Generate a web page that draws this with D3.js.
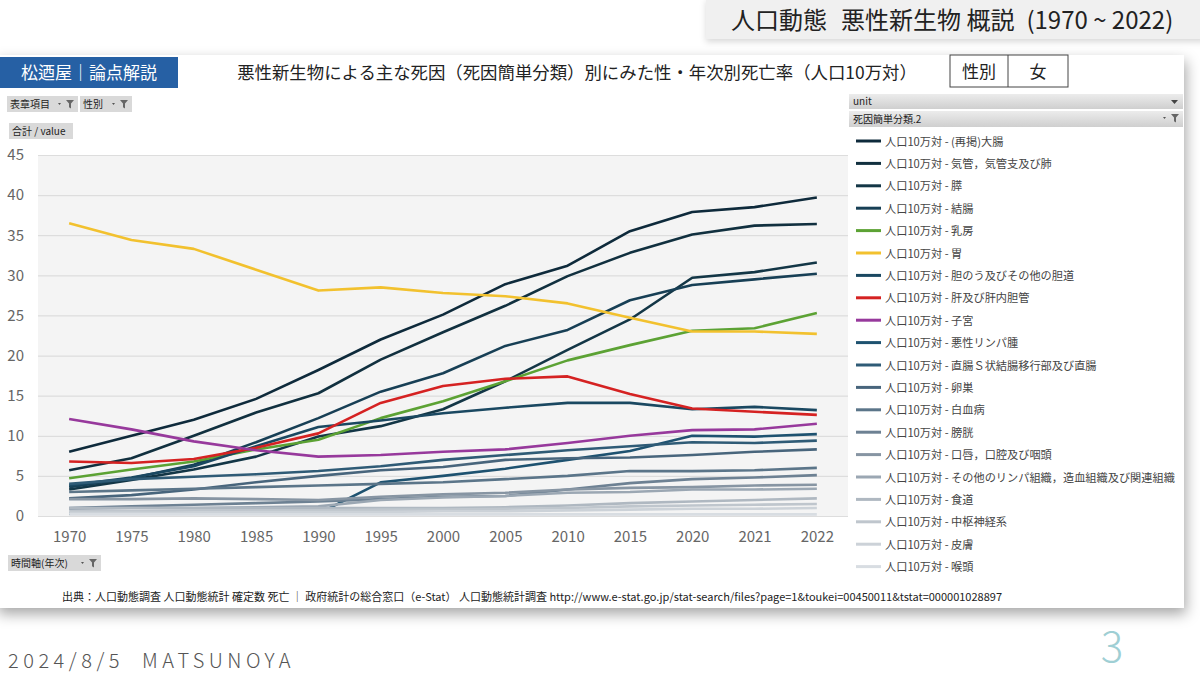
<!DOCTYPE html>
<html>
<head>
<meta charset="utf-8">
<script src="https://cdn.jsdelivr.net/npm/d3@7"></script>
<style>
	body { margin:0; background:#fff; }
	text { font-family:"Noto Sans CJK JP","Noto Sans",sans-serif; }
</style>
</head>
<body>
<script>
// --- data (rates per 100,000, female) ---
var years = ["1970","1975","1980","1985","1990","1995","2000","2005","2010","2015","2020","2021","2022"];
var yTicks = [0,5,10,15,20,25,30,35,40,45];

var causeNames = [
	"(再掲)大腸","気管，気管支及び肺","膵","結腸","乳房","胃",
	"胆のう及びその他の胆道","肝及び肝内胆管","子宮","悪性リンパ腫",
	"直腸Ｓ状結腸移行部及び直腸","卵巣","白血病","膀胱","口唇，口腔及び咽頭",
	"その他のリンパ組織，造血組織及び関連組織","食道","中枢神経系","皮膚","喉頭"
];

var colorectal  = [8.0,10.0,12.0,14.6,18.2,22.0,25.1,28.9,31.2,35.5,37.9,38.5,39.7];
var lung        = [5.7,7.2,10.0,12.9,15.3,19.5,22.9,26.2,29.9,32.8,35.1,36.2,36.4];
var pancreas    = [3.3,4.5,5.8,7.4,9.9,11.2,13.3,16.8,20.7,24.5,29.7,30.4,31.6];
var colon       = [3.6,4.7,6.4,9.2,12.2,15.5,17.8,21.2,23.2,26.9,28.8,29.5,30.2];
var breast      = [4.7,5.8,6.8,8.3,9.5,12.2,14.3,16.8,19.4,21.3,23.1,23.4,25.3];
var stomach     = [36.5,34.4,33.3,30.7,28.1,28.5,27.8,27.4,26.5,24.7,23.0,23.0,22.7];
var gallbladder = [3.8,4.8,6.2,8.7,11.1,11.9,12.8,13.5,14.1,14.1,13.3,13.6,13.2];
var liver       = [6.8,6.6,7.1,8.5,10.3,14.1,16.2,17.1,17.4,15.2,13.4,13.0,12.6];
var uterus      = [12.1,10.8,9.3,8.2,7.4,7.6,8.0,8.3,9.1,10.0,10.7,10.8,11.5];
var lymphoma    = [0.3,0.3,0.3,0.3,0.3,4.2,5.0,5.9,7.0,8.1,10.0,9.9,10.2];
var rectum      = [4.0,4.6,4.9,5.2,5.6,6.2,7.0,7.6,8.2,8.7,9.2,9.1,9.4];
var ovary       = [2.2,2.6,3.3,4.2,5.0,5.7,6.1,7.0,7.2,7.3,7.6,8.0,8.3];
var leukemia    = [3.0,3.2,3.4,3.6,3.8,4.0,4.2,4.6,5.0,5.6,5.6,5.7,6.0];
var bladder     = [1.0,1.2,1.4,1.6,1.8,2.1,2.4,2.5,3.3,4.1,4.6,4.8,5.1];
var oral        = [2.1,2.1,2.2,2.1,2.0,2.4,2.7,2.9,3.3,3.5,3.6,3.8,3.9];
var otherLymph  = [0.9,1.0,1.0,1.1,1.2,2.0,2.3,2.5,2.9,3.0,3.3,3.3,3.4];
var esophagus   = [1.0,1.0,1.0,1.0,1.0,1.0,1.0,1.1,1.3,1.6,1.8,2.0,2.2];
var cns         = [0.6,0.6,0.7,0.7,0.7,0.8,0.8,0.9,1.0,1.2,1.3,1.4,1.5];
var skin        = [0.4,0.4,0.4,0.5,0.5,0.5,0.6,0.6,0.7,0.8,0.9,0.9,1.0];
var larynx      = [0.2,0.2,0.2,0.2,0.2,0.2,0.2,0.2,0.2,0.2,0.2,0.2,0.2];

var seriesValues = [colorectal,lung,pancreas,colon,breast,stomach,gallbladder,liver,uterus,lymphoma,
	rectum,ovary,leukemia,bladder,oral,otherLymph,esophagus,cns,skin,larynx];

var colors = ["#0e2a3b","#11303f","#133646","#173f55","#5ca234","#f2c12e","#1a4861","#d52222","#97399c","#1e5270",
	"#2f5b76","#48657c","#5b7589","#6d8193","#8795a3","#9ba7b3","#afb8c1","#bfc6cd","#ccd2d8","#d8dde2"];

var series = causeNames.map(function(n,i){ return {name:"人口10万対 - "+n, values:seriesValues[i], color:colors[i]}; });

// --- page ---
var W = 1200, H = 675;
var svg = d3.select("body").append("svg").attr("width",W).attr("height",H);
var defs = svg.append("defs");
var sh = defs.append("filter").attr("id","shadow").attr("x","-5%").attr("y","-10%").attr("width","110%").attr("height","125%");
sh.append("feDropShadow").attr("dx",2).attr("dy",6).attr("stdDeviation",7).attr("flood-color","#000").attr("flood-opacity",0.35);
var sh2 = defs.append("filter").attr("id","shadow2").attr("x","-5%").attr("y","-20%").attr("width","110%").attr("height","160%");
sh2.append("feDropShadow").attr("dx",0).attr("dy",3).attr("stdDeviation",3).attr("flood-color","#000").attr("flood-opacity",0.15);
var gbar = defs.append("linearGradient").attr("id","bar").attr("x1",0).attr("y1",0).attr("x2",0).attr("y2",1);
gbar.append("stop").attr("offset","0").attr("stop-color","#ececec");
gbar.append("stop").attr("offset","1").attr("stop-color","#cfcfcf");

// top-right heading, gaps set with tspans
svg.append("rect").attr("x",706).attr("y",-2).attr("width",500).attr("height",41).attr("fill","#f0f0f0").attr("filter","url(#shadow2)");
var head = svg.append("text").attr("x",731).attr("y",29).attr("font-size",24).attr("fill","#222");
head.append("tspan").text("人口動態");
head.append("tspan").attr("dx",14).text("悪性新生物 概説");
head.append("tspan").attr("dx",12).text("(1970 ~ 2022)");

// card
svg.append("rect").attr("x",-4).attr("y",55).attr("width",1188).attr("height",553).attr("fill","#fff").attr("filter","url(#shadow)");

// brand box
svg.append("rect").attr("x",0).attr("y",57).attr("width",178).attr("height",31).attr("fill","#2660a4");
svg.append("text").attr("x",89).attr("y",79).attr("text-anchor","middle").attr("font-size",17).attr("fill","#fff").text("松迺屋｜論点解説");

// title
svg.append("text").attr("x",577).attr("y",79).attr("text-anchor","middle").attr("font-size",17.4).attr("fill","#222")
	.text("悪性新生物による主な死因（死因簡単分類）別にみた性・年次別死亡率（人口10万対）");

// sex box
svg.append("rect").attr("x",950).attr("y",55).attr("width",118).attr("height",32).attr("fill","#fff").attr("stroke","#444").attr("stroke-width",1);
svg.append("line").attr("x1",1008).attr("x2",1008).attr("y1",55).attr("y2",87).attr("stroke","#444");
svg.append("text").attr("x",979).attr("y",78).attr("text-anchor","middle").attr("font-size",17).attr("fill","#222").text("性別");
svg.append("text").attr("x",1038).attr("y",78).attr("text-anchor","middle").attr("font-size",17).attr("fill","#222").text("女");

function funnel(g, x, y) {
	g.append("path").attr("d","M"+(x-8)+","+(y+3)+"l3,0l-1.5,2z").attr("fill","#555");
	g.append("path").attr("d","M"+x+","+y+"l8,0l-3,3.5l0,5l-2,-1.2l0,-3.8z").attr("fill","#666");
}
function button(x, y, w, label, icon) {
	var g = svg.append("g");
	g.append("rect").attr("x",x).attr("y",y).attr("width",w).attr("height",16).attr("fill","#d9d9d9");
	g.append("text").attr("x",x+3).attr("y",y+12).attr("font-size",10).attr("fill","#222").text(label);
	if (icon) funnel(g, x+w-12, y+4);
}
button(7,96,71,"表章項目",true);
button(80,96,52,"性別",true);
button(9,123,64,"合計 / value",false);
button(8,555,93,"時間軸(年次)",true);

// --- plot ---
var x = d3.scalePoint().domain(years).range([38,848]).padding(0.5);
var y = d3.scaleLinear().domain([0,45]).range([516,155]);

svg.append("rect").attr("x",38).attr("y",155).attr("width",810).attr("height",361).attr("fill","#f4f4f4");

var grid = svg.append("g").attr("transform","translate(38,0)")
	.call(d3.axisLeft(y).tickValues(yTicks).tickSize(-810).tickFormat(""));
grid.select(".domain").remove();
grid.selectAll("line").attr("stroke","#dddddd").attr("stroke-width",1.2);

var yAx = svg.append("g").attr("transform","translate(24,0)")
	.call(d3.axisLeft(y).tickValues(yTicks).tickSize(0).tickPadding(0));
yAx.select(".domain").remove();
yAx.selectAll("text").attr("font-size",15).attr("fill","#666").attr("font-family","Noto Sans, sans-serif");

var xAx = svg.append("g").attr("transform","translate(0,516)")
	.call(d3.axisBottom(x).tickSize(0).tickPadding(15));
xAx.select(".domain").remove();
xAx.selectAll("text").attr("font-size",15).attr("fill","#666").attr("font-family","Noto Sans, sans-serif");

var line = d3.line().x(function(d,i){ return x(years[i]); }).y(function(d){ return y(d); });

svg.append("g").selectAll("path").data(series).enter().append("path")
	.attr("d",function(d){ return line(d.values); })
	.attr("fill","none").attr("stroke",function(d){ return d.color; })
	.attr("stroke-width",2.6).attr("stroke-linejoin","round");

// --- legend panel ---
svg.append("rect").attr("x",849).attr("y",94).attr("width",334).attr("height",15).attr("fill","url(#bar)");
svg.append("text").attr("x",853).attr("y",105).attr("font-size",10).attr("fill","#222").text("unit");
svg.append("path").attr("d","M1171,100l7,0l-3.5,4z").attr("fill","#444");
svg.append("rect").attr("x",849).attr("y",111).attr("width",334).attr("height",16).attr("fill","url(#bar)");
svg.append("text").attr("x",853).attr("y",123).attr("font-size",10).attr("fill","#222").text("死因簡単分類.2");
funnel(svg.append("g"), 1171, 114);

var leg = svg.append("g").selectAll("g").data(series).enter().append("g")
	.attr("transform",function(d,i){ return "translate(0,"+(141+i*22.4)+")"; });
leg.append("line").attr("x1",856).attr("x2",881).attr("y1",0).attr("y2",0)
	.attr("stroke",function(d){ return d.color; }).attr("stroke-width",3);
leg.append("text").attr("x",885).attr("y",4.5).attr("font-size",11.2).attr("fill","#444").text(function(d){ return d.name; });

// source
svg.append("text").attr("x",62).attr("y",601).attr("font-size",11).attr("fill","#222")
	.text("出典：人口動態調査 人口動態統計 確定数 死亡 ｜ 政府統計の総合窓口（e-Stat） 人口動態統計調査 http://www.e-stat.go.jp/stat-search/files?page=1&toukei=00450011&tstat=000001028897");

// footer
var foot = svg.append("text").attr("x",8).attr("y",668).attr("font-size",20).attr("font-weight",300).attr("letter-spacing",4.5)
	.attr("fill","#555").attr("font-family","DejaVu Sans, sans-serif");
foot.append("tspan").text("2024/8/5");
foot.append("tspan").attr("dx",18).text("MATSUNOYA");
svg.append("text").attr("x",1112).attr("y",662).attr("text-anchor","middle").attr("font-size",42).attr("font-weight",200)
	.attr("fill","#9fcfd4").attr("font-family","DejaVu Sans, sans-serif").text("3");
</script>
</body>
</html>
